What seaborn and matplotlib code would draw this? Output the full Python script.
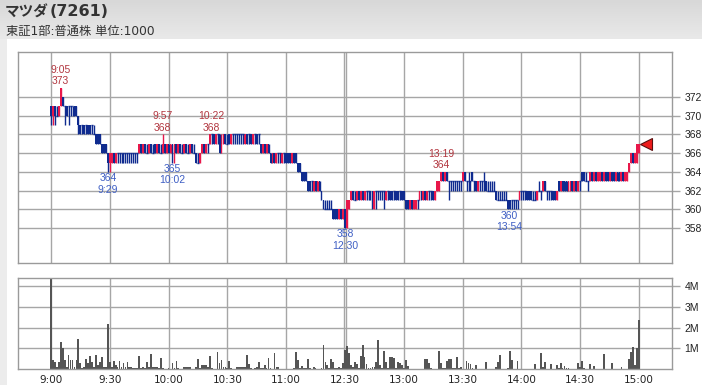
import numpy as np
import pandas as pd
import matplotlib
matplotlib.use("Agg")
import matplotlib.pyplot as plt
import seaborn as sns
from matplotlib.colors import LinearSegmentedColormap

# ---------------- data (1-minute candles, 9:00-11:29, 12:30-15:00) ----------------
open_px = [
    371, 370, 371, 370, 370, 371, 372, 371, 371, 371,
    371, 371, 371, 371, 370, 369, 369, 369, 369, 369,
    369, 369, 368, 368, 368, 368, 367, 367, 367, 366,
    365, 365, 366, 365, 366, 366, 366, 366, 366, 366,
    366, 366, 366, 366, 366, 366, 367, 366, 367, 366,
    366, 367, 366, 367, 366, 367, 366, 366, 367, 366,
    367, 366, 367, 366, 367, 366, 367, 366, 366, 367,
    366, 366, 367, 366, 366, 365, 365, 366, 367, 366,
    367, 367, 368, 368, 367, 368, 368, 366, 367, 368,
    367, 368, 367, 368, 368, 368, 368, 368, 368, 367,
    368, 368, 368, 367, 368, 368, 368, 367, 366, 367,
    366, 367, 366, 365, 366, 365, 366, 366, 365, 366,
    366, 366, 366, 365, 366, 366, 365, 365, 364, 364,
    364, 363, 363, 363, 362, 363, 362, 363, 362, 361,
    360, 360, 360, 360, 360, 360, 360, 359, 360, 359,
    360, 358, 360, 361, 362, 361, 361, 362, 361, 362,
    361, 362, 362, 362, 362, 360, 362, 362, 362, 362,
    362, 361, 362, 362, 362, 362, 362, 362, 362, 362,
    362, 361, 361, 360, 361, 360, 360, 361, 361, 362,
    361, 362, 361, 362, 362, 362, 361, 362, 362, 363,
    364, 363, 364, 363, 363, 363, 363, 363, 363, 363,
    363, 364, 363, 363, 363, 364, 363, 363, 362, 363,
    363, 363, 363, 362, 362, 362, 362, 362, 361, 361,
    361, 361, 361, 361, 361, 361, 361, 361, 361, 361,
    362, 362, 362, 362, 362, 362, 361, 361, 361, 362,
    362, 362, 363, 362, 362, 362, 362, 362, 361, 363,
    362, 363, 363, 363, 362, 362, 363, 362, 363, 362,
    363, 364, 364, 363, 363, 363, 364, 363, 364, 363,
    363, 364, 363, 364, 364, 363, 364, 364, 363, 364,
    364, 363, 364, 363, 363, 364, 365, 366, 365, 365, 366,
]
high_px = [
    371, 371, 371, 371, 371, 373, 372, 371, 371, 371,
    371, 371, 371, 371, 370, 369, 369, 369, 369, 369,
    369, 369, 369, 368, 368, 368, 367, 367, 367, 366,
    366, 366, 366, 366, 366, 366, 366, 366, 366, 366,
    366, 366, 366, 366, 366, 367, 367, 367, 367, 367,
    367, 367, 367, 367, 367, 367, 367, 368, 367, 367,
    367, 367, 367, 367, 367, 367, 367, 367, 367, 367,
    367, 367, 367, 367, 366, 366, 366, 367, 367, 367,
    367, 368, 368, 368, 368, 368, 368, 368, 368, 368,
    368, 368, 368, 368, 368, 368, 368, 368, 368, 368,
    368, 368, 368, 368, 368, 368, 368, 367, 367, 367,
    367, 367, 366, 366, 366, 366, 366, 366, 366, 366,
    366, 366, 366, 366, 366, 366, 365, 365, 364, 364,
    364, 363, 363, 363, 363, 363, 363, 363, 362, 361,
    361, 361, 361, 361, 360, 360, 360, 360, 360, 360,
    360, 361, 361, 362, 362, 362, 362, 362, 362, 362,
    362, 362, 362, 362, 362, 362, 362, 362, 362, 362,
    362, 362, 362, 362, 362, 362, 362, 362, 362, 362,
    362, 361, 361, 361, 361, 361, 361, 361, 362, 362,
    362, 362, 362, 362, 362, 362, 362, 363, 363, 364,
    364, 364, 364, 363, 363, 363, 363, 363, 363, 363,
    364, 364, 363, 364, 363, 364, 363, 363, 363, 363,
    363, 364, 363, 363, 363, 363, 363, 362, 362, 362,
    362, 362, 362, 361, 361, 361, 361, 361, 361, 362,
    362, 362, 362, 362, 362, 362, 362, 362, 362, 363,
    362, 363, 363, 362, 362, 362, 362, 362, 362, 363,
    363, 363, 363, 363, 363, 363, 363, 363, 363, 363,
    363, 364, 364, 364, 363, 364, 364, 364, 364, 364,
    364, 364, 364, 364, 364, 364, 364, 364, 364, 364,
    364, 364, 364, 364, 364, 365, 366, 366, 366, 367, 367,
]
low_px = [
    369, 369, 369, 370, 370, 371, 371, 369, 370, 369,
    370, 370, 370, 370, 368, 368, 368, 368, 368, 368,
    368, 368, 368, 367, 367, 367, 366, 366, 366, 364,
    364, 365, 365, 365, 365, 365, 365, 365, 365, 365,
    365, 365, 365, 365, 365, 366, 366, 366, 366, 366,
    366, 366, 366, 366, 366, 366, 366, 366, 366, 366,
    366, 366, 365, 365, 366, 366, 366, 366, 366, 366,
    366, 366, 366, 366, 365, 365, 365, 366, 366, 366,
    366, 367, 367, 367, 367, 367, 366, 366, 367, 367,
    367, 367, 367, 367, 367, 367, 367, 367, 367, 367,
    367, 367, 367, 367, 367, 367, 367, 366, 366, 366,
    366, 366, 365, 365, 365, 365, 365, 365, 365, 365,
    365, 365, 365, 365, 365, 365, 364, 364, 363, 363,
    363, 362, 362, 362, 362, 362, 362, 362, 361, 360,
    360, 360, 360, 360, 359, 359, 359, 359, 359, 359,
    358, 358, 360, 361, 361, 361, 361, 361, 361, 361,
    361, 361, 361, 361, 360, 360, 360, 361, 361, 361,
    360, 361, 361, 361, 361, 361, 361, 361, 361, 361,
    361, 360, 360, 360, 360, 360, 360, 360, 361, 361,
    361, 361, 361, 361, 361, 361, 361, 362, 362, 363,
    363, 363, 363, 361, 362, 362, 362, 362, 362, 362,
    363, 363, 362, 362, 362, 363, 362, 362, 362, 362,
    362, 362, 362, 362, 362, 362, 362, 361, 361, 361,
    361, 361, 361, 360, 360, 360, 360, 360, 360, 361,
    361, 361, 361, 361, 361, 361, 361, 361, 361, 362,
    361, 362, 362, 361, 361, 361, 361, 361, 361, 362,
    362, 362, 362, 362, 362, 362, 362, 362, 362, 362,
    362, 363, 363, 363, 362, 363, 363, 363, 363, 363,
    363, 363, 363, 363, 363, 363, 363, 363, 363, 363,
    363, 363, 363, 363, 363, 364, 365, 365, 365, 365, 366,
]
close_px = [
    370, 371, 370, 370, 371, 373, 371, 371, 370, 371,
    371, 371, 370, 370, 369, 368, 369, 368, 369, 368,
    368, 369, 368, 367, 367, 367, 366, 366, 366, 365,
    366, 366, 365, 366, 366, 366, 366, 366, 366, 366,
    366, 366, 366, 366, 366, 367, 366, 367, 366, 366,
    367, 366, 366, 366, 367, 366, 366, 367, 366, 367,
    366, 367, 366, 367, 366, 367, 366, 366, 367, 366,
    366, 367, 366, 366, 365, 365, 366, 367, 366, 367,
    367, 368, 368, 367, 368, 368, 366, 367, 368, 367,
    367, 367, 368, 368, 368, 368, 368, 368, 368, 368,
    367, 368, 367, 368, 368, 367, 368, 366, 367, 366,
    367, 366, 365, 366, 365, 366, 366, 366, 366, 366,
    365, 365, 365, 366, 365, 365, 364, 364, 363, 363,
    363, 362, 362, 363, 363, 362, 363, 362, 361, 360,
    360, 360, 360, 360, 359, 359, 359, 360, 359, 360,
    358, 361, 361, 362, 361, 361, 362, 361, 362, 361,
    362, 362, 362, 361, 360, 362, 362, 362, 362, 362,
    362, 362, 362, 361, 361, 362, 361, 361, 362, 361,
    361, 360, 360, 361, 360, 361, 361, 361, 362, 361,
    362, 361, 362, 362, 362, 361, 362, 363, 363, 364,
    363, 364, 363, 363, 363, 363, 363, 363, 363, 363,
    364, 363, 363, 363, 363, 363, 363, 362, 363, 363,
    363, 363, 362, 362, 362, 362, 362, 361, 361, 361,
    361, 361, 361, 360, 360, 361, 361, 361, 361, 362,
    362, 362, 362, 361, 361, 361, 361, 361, 362, 362,
    362, 363, 362, 362, 362, 362, 361, 361, 362, 362,
    363, 362, 362, 362, 363, 363, 362, 363, 362, 363,
    363, 363, 363, 363, 363, 364, 363, 364, 363, 364,
    364, 363, 364, 363, 363, 364, 363, 363, 364, 363,
    363, 364, 363, 364, 364, 365, 366, 365, 366, 367, 367,
]
volume_m = [
    4.38, 0.43, 0.35, 0.08, 0.35, 1.29, 1.00, 0.43, 0.08, 0.68,
    0.43, 0.43, 0.08, 0.43, 1.45, 0.27, 0.06, 0.08, 0.47, 0.30,
    0.64, 0.35, 0.08, 0.68, 0.20, 0.35, 0.56, 0.08, 0.08, 2.20,
    0.32, 0.08, 0.38, 0.20, 0.08, 0.39, 0.08, 0.27, 0.08, 0.32,
    0.08, 0.12, 0.06, 0.05, 0.05, 0.63, 0.05, 0.11, 0.05, 0.35,
    0.08, 0.71, 0.08, 0.10, 0.10, 0.05, 0.52, 0.03, 0.02, 0.02,
    0.03, 0.02, 0.27, 0.05, 0.39, 0.05, 0.02, 0.02, 0.10, 0.10,
    0.11, 0.10, 0.02, 0.02, 0.10, 0.47, 0.05, 0.20, 0.20, 0.20,
    0.10, 0.63, 0.05, 0.02, 0.02, 0.80, 0.27, 0.43, 0.10, 0.10,
    0.03, 0.39, 0.05, 0.02, 0.02, 0.10, 0.10, 0.08, 0.10, 0.10,
    0.68, 0.24, 0.05, 0.02, 0.05, 0.10, 0.32, 0.05, 0.05, 0.20,
    0.05, 0.52, 0.05, 0.02, 0.76, 0.10, 0.10, 0.02, 0.02, 0.02,
    0.02, 0.02, 0.02, 0.02, 0.05, 0.80, 0.43, 0.05, 0.15, 0.05,
    0.05, 0.47, 0.05, 0.02, 0.10, 0.05, 0.02, 0.02, 0.05, 1.16,
    0.35, 0.20, 0.05, 0.47, 0.35, 0.05, 0.05, 0.10, 0.05, 0.27,
    0.92, 1.11, 0.76, 0.20, 0.08, 0.32, 0.23, 0.05, 0.64, 1.16,
    0.60, 0.23, 0.05, 0.05, 0.10, 0.10, 0.35, 1.40, 0.20, 0.05,
    0.87, 0.35, 0.05, 0.60, 0.60, 0.52, 0.05, 0.32, 0.27, 0.20,
    0.05, 0.42, 0.16, 0.02, 0.02, 0.02, 0.02, 0.02, 0.02, 0.02,
    0.02, 0.47, 0.47, 0.27, 0.05, 0.02, 0.02, 0.02, 0.87, 0.27,
    0.05, 0.05, 0.39, 0.47, 0.47, 0.05, 0.05, 0.60, 0.05, 0.10,
    0.02, 0.02, 0.39, 0.27, 0.23, 0.05, 0.02, 0.20, 0.02, 0.02,
    0.02, 0.02, 0.32, 0.02, 0.02, 0.02, 0.02, 0.10, 0.35, 0.68,
    0.02, 0.02, 0.02, 0.05, 0.87, 0.43, 0.02, 0.02, 0.39, 0.02,
    0.02, 0.02, 0.02, 0.02, 0.02, 0.02, 0.02, 0.24, 0.02, 0.02,
    0.76, 0.10, 0.35, 0.02, 0.02, 0.23, 0.02, 0.02, 0.20, 0.05,
    0.27, 0.05, 0.16, 0.05, 0.05, 0.02, 0.02, 0.02, 0.02, 0.27,
    0.10, 0.39, 0.05, 0.02, 0.02, 0.24, 0.02, 0.15, 0.02, 0.02,
    0.02, 0.02, 0.71, 0.02, 0.02, 0.02, 0.27, 0.02, 0.02, 0.02,
    0.02, 0.11, 0.02, 0.02, 0.02, 0.48, 0.84, 1.08, 0.20, 1.00, 2.37,
]
tick_pos = [0, 30, 60, 90, 120, 150, 180, 210, 240, 270, 300]
tick_labels = ["9:00", "9:30", "10:00", "10:30", "11:00", "12:30",
               "13:00", "13:30", "14:00", "14:30", "15:00"]
price_ticks = [358, 360, 362, 364, 366, 368, 370, 372]
vol_ticks = [1, 2, 3, 4]
vol_tick_labels = ["1M", "2M", "3M", "4M"]
high_notes = [(5, "9:05"), (57, "9:57"), (82, "10:22"), (199, "13:19")]
low_notes = [(29, "9:29"), (62, "10:02"), (150, "12:30"), (234, "13:54")]

df = pd.DataFrame({"o": open_px, "h": high_px, "l": low_px, "c": close_px,
                   "v": np.array(volume_m) * 1e6})
df["i"] = np.arange(len(df))

# ---------------- style ----------------
sns.set_theme(style="white")
plt.rcParams["font.family"] = ["DejaVu Sans", "Noto Sans CJK JP"]
SMALL = ["Liberation Sans", "DejaVu Sans"]

UP = "#e8174a"
DOWN = "#0f2b8f"
GRID = "#a6a6a6"
BORDER = "#9a9a9a"

fig = plt.figure(figsize=(7.02, 3.85), dpi=100)
fig.patch.set_facecolor("white")

# header gradient + left strip
hdr = fig.add_axes([0, 1 - 39 / 385, 1, 39 / 385])
grad = np.linspace(0, 1, 50).reshape(-1, 1)
cm = LinearSegmentedColormap.from_list("hdr", ["#d8d8d8", "#e9e9e9"])
hdr.imshow(grad, aspect="auto", cmap=cm, extent=[0, 1, 0, 1], origin="upper")
hdr.set_axis_off()
strip = fig.add_axes([0, 0, 7 / 702, 1 - 39 / 385])
strip.set_axis_off()
strip.add_patch(plt.Rectangle((0, 0), 1, 1, color="#ececec", transform=strip.transAxes))

fig.text(5 / 702, 1 - 12 / 385, "マツダ", fontsize=10.5, fontweight="bold",
         color="#333333", va="center", ha="left",
         family=["Noto Sans CJK JP", "DejaVu Sans"])
fig.text(50 / 702, 1 - 12 / 385, "(7261)", fontsize=11.5, fontweight="bold",
         color="#333333", va="center", ha="left")
fig.text(6 / 702, 1 - 31 / 385, "東証1部:普通株 単位:1000", fontsize=8.8,
         color="#333333", va="center", ha="left")

# ---------------- price panel ----------------
ax1 = fig.add_axes([18 / 702, 122 / 385, 654 / 702, 211 / 385])
ax2 = fig.add_axes([18 / 702, 16 / 385, 654 / 702, 91 / 385], sharex=ax1)

for ax in (ax1, ax2):
    ax.set_facecolor("white")
    for sp in ax.spines.values():
        sp.set_color(BORDER)
        sp.set_linewidth(1)
    for t in tick_pos:
        if t == 150:
            ax.axvline(t - 0.7, color=GRID, lw=1, zorder=0)
            ax.axvline(t + 0.7, color=GRID, lw=1, zorder=0)
        else:
            ax.axvline(t, color=GRID, lw=1, zorder=0)

for p in price_ticks:
    ax1.axhline(p, color=GRID, lw=1, zorder=0)

up = df[df.c > df.o]
dn = df[df.c < df.o]
dj = df[df.c == df.o]
ax1.vlines(up.i, up.l, up.h, color=UP, lw=1, zorder=2)
ax1.vlines(dn.i, dn.l, dn.h, color=DOWN, lw=1, zorder=2)
ax1.vlines(dj.i, dj.l, dj.h, color=DOWN, lw=1, zorder=2)
ax1.bar(up.i, up.c - up.o, bottom=up.o, width=0.95, color=UP, linewidth=0, zorder=3)
ax1.bar(dn.i, dn.o - dn.c, bottom=dn.c, width=0.95, color=DOWN, linewidth=0, zorder=3)
ax1.hlines(dj.o, dj.i - 0.5, dj.i + 0.5, color=DOWN, lw=1, zorder=3)

# last-price marker
ax1.plot([df.i.iloc[-1] + 3.3], [df.c.iloc[-1]], marker="<", ms=9,
         color="#ee1c1c", mec="#5a1010", mew=0.8, zorder=4)

for idx, lab in high_notes:
    ax1.annotate(f"{lab}\n{high_px[idx]}", xy=(idx, high_px[idx]), xytext=(0, 1),
                 textcoords="offset points", ha="center", va="bottom",
                 fontsize=7.5, color="#b2363f", linespacing=1.2, family=SMALL)
for idx, lab in low_notes:
    ax1.annotate(f"{low_px[idx]}\n{lab}", xy=(idx, low_px[idx]), xytext=(0, -1),
                 textcoords="offset points", ha="center", va="top",
                 fontsize=7.5, color="#3f5fc4", linespacing=1.2, family=SMALL)

ax1.set_xlim(-16.8, 316.8)
ax1.set_ylim(354.26, 376.81)
ax1.yaxis.tick_right()
ax1.set_yticks(price_ticks)
ax1.set_yticklabels([str(p) for p in price_ticks], family=SMALL)
ax1.tick_params(axis="y", right=True, length=6, width=1, color=GRID, pad=3,
                labelsize=7.5, labelcolor="#222222")
ax1.tick_params(axis="x", bottom=False, labelbottom=False)

# ---------------- volume panel ----------------
sns.barplot(data=df, x="i", y="v", native_scale=True, color="#555555",
            saturation=1, width=0.9, linewidth=0, errorbar=None, ax=ax2, zorder=2)
for v in vol_ticks:
    ax2.axhline(v * 1e6, color=GRID, lw=1, zorder=0)
ax2.set_ylim(0, 4.4e6)
ax2.set_xlim(-16.8, 316.8)
ax2.yaxis.tick_right()
ax2.set_yticks([v * 1e6 for v in vol_ticks])
ax2.set_yticklabels(vol_tick_labels, family=SMALL)
ax2.set_xticks(tick_pos)
ax2.set_xticklabels(tick_labels)
ax2.tick_params(axis="y", right=True, length=6, width=1, color=GRID, pad=3,
                labelsize=7.5, labelcolor="#222222")
ax2.tick_params(axis="x", bottom=False, length=0, pad=4, labelsize=7.5,
                labelcolor="#222222")
ax2.set_xlabel("")
ax2.set_ylabel("")

fig.savefig("out.png", dpi=100)
